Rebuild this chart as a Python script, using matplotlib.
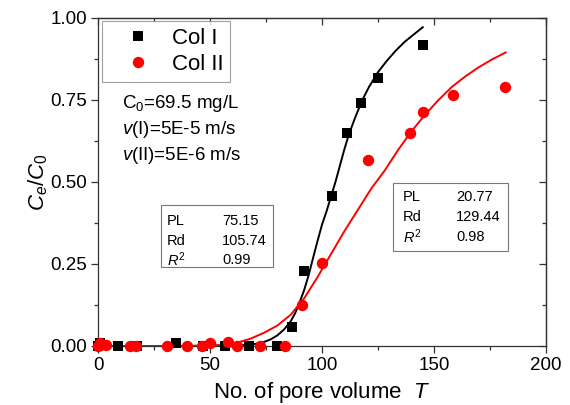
import matplotlib
matplotlib.use("Agg")
import matplotlib.pyplot as plt
from matplotlib.ticker import MultipleLocator
from matplotlib.patches import Rectangle

plt.rcParams['font.family'] = ['Liberation Sans', 'DejaVu Sans']
plt.rcParams['mathtext.fontset'] = 'custom'
plt.rcParams['mathtext.rm'] = 'Liberation Sans'
plt.rcParams['mathtext.it'] = 'Liberation Sans:italic'
plt.rcParams['mathtext.bf'] = 'Liberation Sans:bold'

# ---- data ----
col1_T = [0, 1, 9, 17.5, 35, 47, 56.7, 67.5, 80, 86.5, 91.8, 104.6, 111.0, 117.4, 124.9, 145.2]
col1_C = [0.0, 0.01, 0.0, 0.0, 0.008, 0.0, 0.0, 0.0, 0.0, 0.059, 0.229, 0.457, 0.648, 0.740, 0.818, 0.919]

col2_T = [0, 1, 3.5, 14.5, 16.8, 30.7, 39.6, 46.3, 50, 58.2, 62.0, 72.3, 83.5, 90.9, 99.8, 120.4, 139.3, 145.0, 158.3, 181.8]
col2_C = [0.0, 0.01, 0.003, 0.0, 0.0, 0.0, 0.0, 0.0, 0.008, 0.013, 0.0, 0.0, 0.0, 0.125, 0.254, 0.567, 0.650, 0.714, 0.764, 0.790]

fit1_T = [0, 30, 60, 66, 70, 74, 77, 80, 83, 86, 88, 90, 92, 94, 96, 98, 100, 102, 104, 106, 108, 110, 112, 115,
          118, 121, 125, 129, 133, 137, 141, 145]
fit1_C = [0, 0, 0.001, 0.003, 0.006, 0.012, 0.020, 0.032, 0.050, 0.075, 0.10, 0.133, 0.17, 0.215, 0.268, 0.32,
          0.37, 0.41, 0.455, 0.50, 0.55, 0.60, 0.645, 0.70, 0.75, 0.79, 0.835, 0.870, 0.901, 0.928, 0.950, 0.972]

fit2_T = [0, 40, 55, 62, 68, 74, 80, 86, 92, 98, 104, 110, 116, 122, 128, 134, 140, 146, 152, 158, 164, 170, 176, 182]
fit2_C = [0, 0, 0.003, 0.01, 0.022, 0.04, 0.062, 0.095, 0.145, 0.21, 0.28, 0.35, 0.415, 0.48, 0.535, 0.598, 0.655,
          0.705, 0.75, 0.79, 0.822, 0.85, 0.874, 0.895]

legend_labels = ['Col I', 'Col II']
param_names = ['PL', 'Rd', '$R^2$']
params1 = ['75.15', '105.74', '0.99']
params2 = ['20.77', '129.44', '0.98']
notes = ['C$_0$=69.5 mg/L', '$v$(I)=5E-5 m/s', '$v$(II)=5E-6 m/s']
x_ticks = [0, 50, 100, 150, 200]
y_ticks = [0.00, 0.25, 0.50, 0.75, 1.00]

# ---- figure ----
fig = plt.figure(figsize=(5.7, 4.05), dpi=100)
W, H = 570, 405
x0, x1, y0, y1 = 98, 546, 18, 346
ax = fig.add_axes([x0 / W, 1 - y1 / H, (x1 - x0) / W, (y1 - y0) / H])

ax.plot(fit1_T, fit1_C, '-', color='black', lw=1.4, zorder=2)
ax.plot(fit2_T, fit2_C, '-', color='#ff0000', lw=1.4, zorder=2)
ax.plot(col1_T, col1_C, 's', color='black', ms=7.2, mew=0, clip_on=False, zorder=3, label=legend_labels[0])
ax.plot(col2_T, col2_C, 'o', color='#ff0000', ms=8.2, mew=0, clip_on=False, zorder=4, label=legend_labels[1])

ax.set_xlim(0, 200)
ax.set_ylim(0, 1.0)
ax.set_xticks(x_ticks)
ax.set_yticks(y_ticks)
ax.set_yticklabels([f'{v:.2f}' for v in y_ticks])
ax.xaxis.set_minor_locator(MultipleLocator(25))
ax.yaxis.set_minor_locator(MultipleLocator(0.125))
ax.tick_params(which='both', direction='out', labelsize=13.5, width=0.9, color='#333333', pad=3)
ax.tick_params(which='major', length=5)
ax.tick_params(which='minor', length=3)
for s in ax.spines.values():
    s.set_linewidth(0.9)
    s.set_color('#333333')

# mirrored inward ticks on top and right
secx = ax.secondary_xaxis('top')
secx.set_xticks(x_ticks)
secx.xaxis.set_minor_locator(MultipleLocator(25))
secx.tick_params(which='both', direction='in', labeltop=False, width=0.9, color='#333333')
secx.tick_params(which='major', length=5)
secx.tick_params(which='minor', length=3)
secx.spines['top'].set_linewidth(0.9)
secx.spines['top'].set_color('#333333')
secy = ax.secondary_yaxis('right')
secy.set_yticks(y_ticks)
secy.yaxis.set_minor_locator(MultipleLocator(0.125))
secy.tick_params(which='both', direction='in', labelright=False, width=0.9, color='#333333')
secy.tick_params(which='major', length=5)
secy.tick_params(which='minor', length=3)
secy.spines['right'].set_linewidth(0.9)
secy.spines['right'].set_color('#333333')

ax.set_xlabel('No. of pore volume  $T$', fontsize=16, labelpad=4)
ax.set_ylabel('$C_e/C_0$', fontsize=16, labelpad=0)

leg = ax.legend(loc='upper left', bbox_to_anchor=(0.009, 0.991), borderaxespad=0,
                fontsize=16, frameon=True, fancybox=False, edgecolor='#888888',
                handlelength=2.6, handletextpad=0.25, labelspacing=0.25, borderpad=0.3)
leg.get_frame().set_linewidth(0.8)

def px2ax(px, py):
    return (px - x0) / (x1 - x0), (y1 - py) / (y1 - y0)

for txt, py in zip(notes, [104, 130, 156]):
    xa, ya = px2ax(122, py)
    ax.text(xa, ya, txt, transform=ax.transAxes, fontsize=13.5, va='center', ha='left')

def param_box(bx0, by0, bx1, by1, name_x, val_x, rows_y, vals):
    ax0, ay1 = px2ax(bx0, by0)
    ax1_, ay0 = px2ax(bx1, by1)
    ax.add_patch(Rectangle((ax0, ay0), ax1_ - ax0, ay1 - ay0, transform=ax.transAxes,
                           fill=True, facecolor='white', edgecolor='#777777', lw=0.8, zorder=5))
    for nm, v, ry in zip(param_names, vals, rows_y):
        xa, ya = px2ax(name_x, ry)
        ax.text(xa, ya, nm, transform=ax.transAxes, fontsize=10.5, va='center', ha='left', zorder=6)
        xa, ya = px2ax(val_x, ry)
        ax.text(xa, ya, v, transform=ax.transAxes, fontsize=10.5, va='center', ha='left', zorder=6)

param_box(161, 205, 273, 267, 167, 222, [221, 241, 260], params1)
param_box(393, 183, 508, 251, 403, 456, [197, 217, 237], params2)

fig.savefig('out.png', dpi=100)
